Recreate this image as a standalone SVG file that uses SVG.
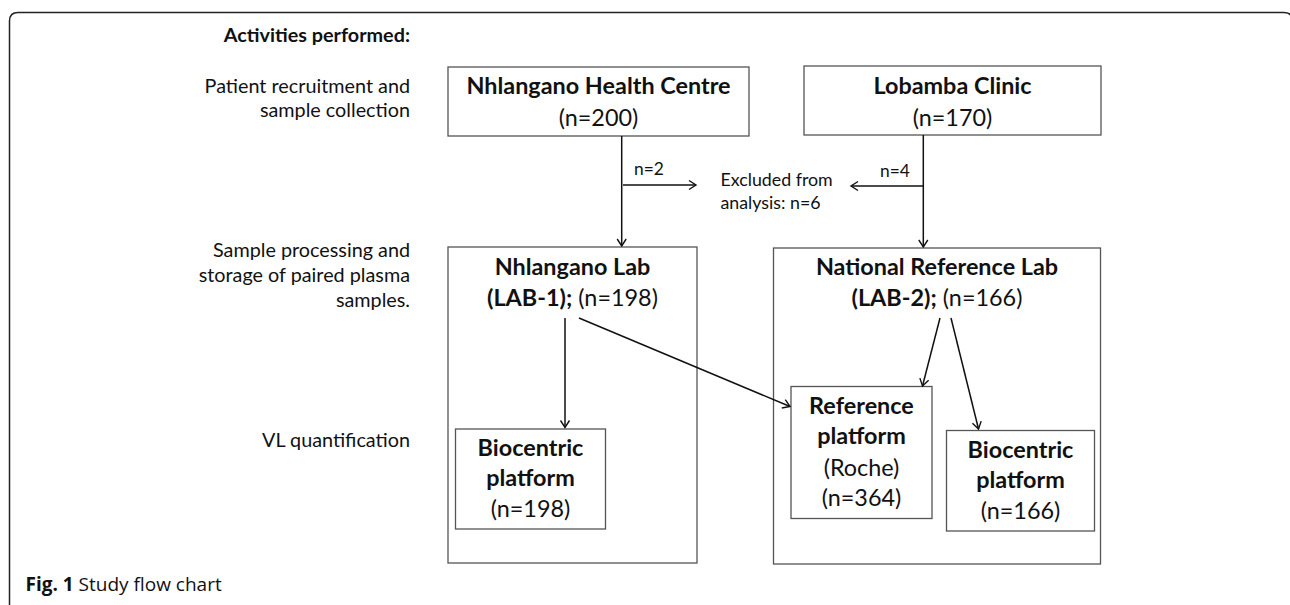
<svg xmlns="http://www.w3.org/2000/svg" width="1290" height="605" viewBox="0 0 1290 605">
<style>
text{font-family:Lato,"Liberation Sans",sans-serif;fill:#111}
.lbl{font-size:19.8px;text-anchor:end}
.hd{font-size:19.8px;font-weight:bold;text-anchor:end}
.t{font-size:23.4px;text-anchor:middle}
.b{font-weight:bold}
.sm{font-size:17.4px}
.ex{font-size:17.8px}
.box{fill:#fff;stroke:#555;stroke-width:1.3}
.con{fill:none;stroke:#111;stroke-width:1.5;marker-end:url(#ah)}
.cap{font-family:"Open Sans","Liberation Sans",sans-serif;font-size:19px}
</style>
<defs>
<marker id="ah" markerUnits="userSpaceOnUse" markerWidth="12" markerHeight="12" refX="9" refY="6" orient="auto">
<path d="M2,1.5 L9,6 L2,10.5" fill="none" stroke="#111" stroke-width="1.4"/>
</marker>
</defs>
<rect width="1290" height="605" fill="#fff"/>
<path id="frame" d="M9.5,605 V21 Q9.5,12.5 18,12.5 H1284 Q1292.5,12.5 1292.5,21 V605" fill="none" stroke="#222" stroke-width="1.5"/>

<g id="activities">
<text class="hd" x="410" y="42">Activities performed:</text>
<text class="lbl" x="410" y="92.5">Patient recruitment and</text>
<text class="lbl" x="410" y="116.5">sample collection</text>
<text class="lbl" x="410" y="257">Sample processing and</text>
<text class="lbl" x="410" y="282">storage of paired plasma</text>
<text class="lbl" x="410" y="307">samples.</text>
<text class="lbl" x="410" y="446.5">VL quantification</text>
</g>

<g id="nhlangano-hc">
<rect class="box" x="448" y="67" width="301" height="69"/>
<text class="t b" x="598.5" y="94">Nhlangano Health Centre</text>
<text class="t" x="598.5" y="126">(n=200)</text>
</g>

<g id="lobamba">
<rect class="box" x="804" y="66" width="297" height="69"/>
<text class="t b" x="952.5" y="94">Lobamba Clinic</text>
<text class="t" x="952.5" y="126">(n=170)</text>
</g>

<g id="excluded">
<text class="ex" x="720.5" y="186">Excluded from</text>
<text class="ex" x="720.5" y="209">analysis: n=6</text>
</g>

<g id="nhlangano-lab">
<rect class="box" x="448" y="247" width="249" height="316"/>
<text class="t b" x="572.5" y="275">Nhlangano Lab</text>
<text class="t" x="572.5" y="306"><tspan class="b">(LAB-1);</tspan> (n=198)</text>
</g>

<g id="national-lab">
<rect class="box" x="773.5" y="248" width="327" height="316"/>
<text class="t b" x="937" y="275">National Reference Lab</text>
<text class="t" x="937" y="306"><tspan class="b">(LAB-2);</tspan> (n=166)</text>
</g>

<g id="biocentric-1">
<rect class="box" x="455.5" y="429" width="150" height="100"/>
<text class="t b" x="530.5" y="456">Biocentric</text>
<text class="t b" x="530.5" y="486">platform</text>
<text class="t" x="530.5" y="517">(n=198)</text>
</g>

<g id="reference-platform">
<rect class="box" x="791" y="386.5" width="141" height="132"/>
<text class="t b" x="861.5" y="414">Reference</text>
<text class="t b" x="861.5" y="444">platform</text>
<text class="t" x="861.5" y="475.5">(Roche)</text>
<text class="t" x="861.5" y="505.5">(n=364)</text>
</g>

<g id="biocentric-2">
<rect class="box" x="946.5" y="430.5" width="148" height="100.5"/>
<text class="t b" x="1020.5" y="457.5">Biocentric</text>
<text class="t b" x="1020.5" y="487.5">platform</text>
<text class="t" x="1020.5" y="518.5">(n=166)</text>
</g>

<g id="connectors">
<path class="con" d="M621.7,136 V246"/>
<path class="con" d="M623,185 H696"/>
<path class="con" d="M923.3,135 V247"/>
<path class="con" d="M923.3,186 H851"/>
<path class="con" d="M565,318 V427.5"/>
<path class="con" d="M579,318 L790,406.5"/>
<path class="con" d="M940,318 L922.5,386"/>
<path class="con" d="M951,318 L978.5,429"/>
<text class="sm" x="634" y="175">n=2</text>
<text class="sm" x="880" y="176.5">n=4</text>
</g>

<g id="caption">
<text class="cap" x="25.5" y="591"><tspan font-weight="bold">Fig. 1</tspan> Study flow chart</text>
</g>
</svg>
